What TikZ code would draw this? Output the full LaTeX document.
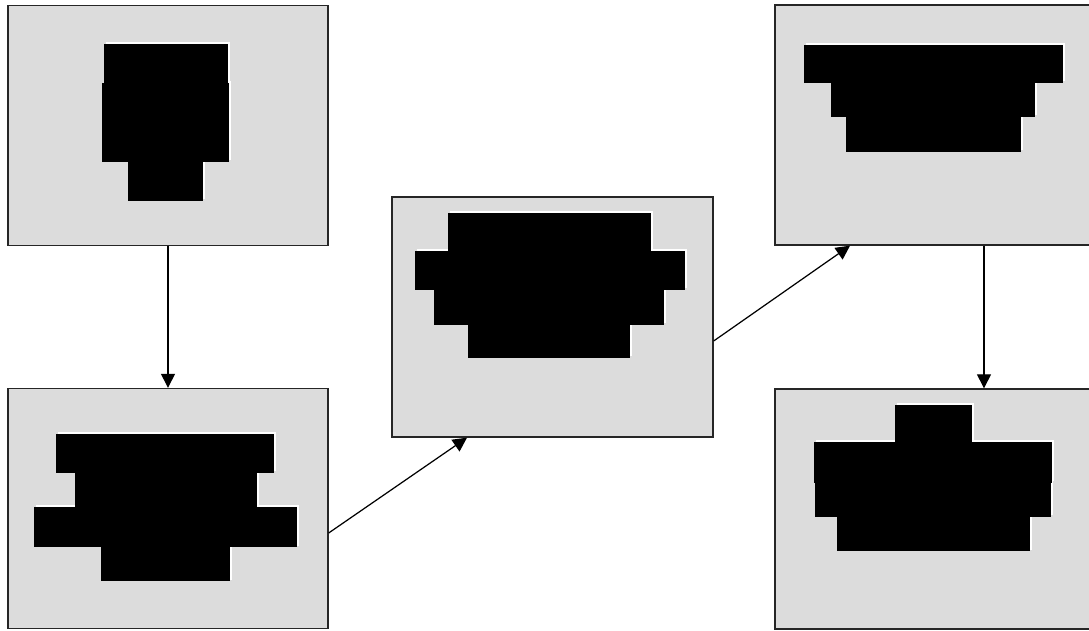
\documentclass[tikz,border=0pt]{standalone}
\usepackage{tikz}
\usetikzlibrary{arrows.meta, positioning}
\usepackage{xcolor}
\definecolor{panelgray}{RGB}{220,220,220}

% stacked black slabs with a thin white glint on top / right
\newcommand{\slabs}[1]{%
  \foreach \xa/\ya/\xb/\yb in {#1} {\fill[glint] (\xa+1.5,\ya-1.5) rectangle (\xb+1.5,\yb-1.5);}
  \foreach \xa/\ya/\xb/\yb in {#1} {\fill[slab] (\xa,\ya) rectangle (\xb,\yb);}
}

\begin{document}
\begin{tikzpicture}[
    x=0.02cm, y=-0.02cm,
    panel/.style={
        draw=black!85,
        fill=panelgray,
        line width=0.8pt,
        minimum width=6.4cm,
        minimum height=4.8cm,
        inner sep=0pt
    },
    slab/.style={fill=black},
    glint/.style={fill=white},
    arrow/.style={
        -{Triangle[length=8pt,width=8pt]},
        line width=0.7pt,
        draw=black
    }
]
\useasboundingbox (0,0) rectangle (1089,631);
\fill[white] (0,0) rectangle (1089,631);
\clip (0,0) rectangle (1089,631);

% Panels (the right-hand ones run off the page)
\node (p1) [panel] at (168,125.5) {};
\node (p2) [panel] at (168,508.5) {};
\node (p3) [panel, minimum width=6.42cm] at (552.5,317) {};
\node (p4) [panel, minimum width=6.8cm] at (945,125) {};
\node (p5) [panel, minimum width=6.8cm] at (945,509) {};

% Slab shapes
\slabs{104/44/228/83, 102/83/229/162, 128/162/203/201}
\slabs{56/434/274/473, 75/473/257/507, 34/507/297/547, 101/547/230/581}
\slabs{448/213/651/251, 415/251/685/290, 434/290/664/325, 468/325/630/358}
\slabs{804/45/1063/83, 831/83/1035/117, 846/117/1021/152}
\slabs{895/405/972/442, 814/442/1052/483, 815/483/1051/517, 837/517/1030/551}

% Paths
\draw [arrow] (p1.south) -- (p2.north);
\draw [arrow] ([yshift=-0.49cm]p2.east) -- ([xshift=-1.71cm]p3.south);
\draw [arrow] ([yshift=-0.48cm]p3.east) -- ([xshift=-1.9cm]p4.south);
\draw [arrow] ([xshift=0.78cm]p4.south) -- ([xshift=0.78cm]p5.north);

\end{tikzpicture}
\end{document}
